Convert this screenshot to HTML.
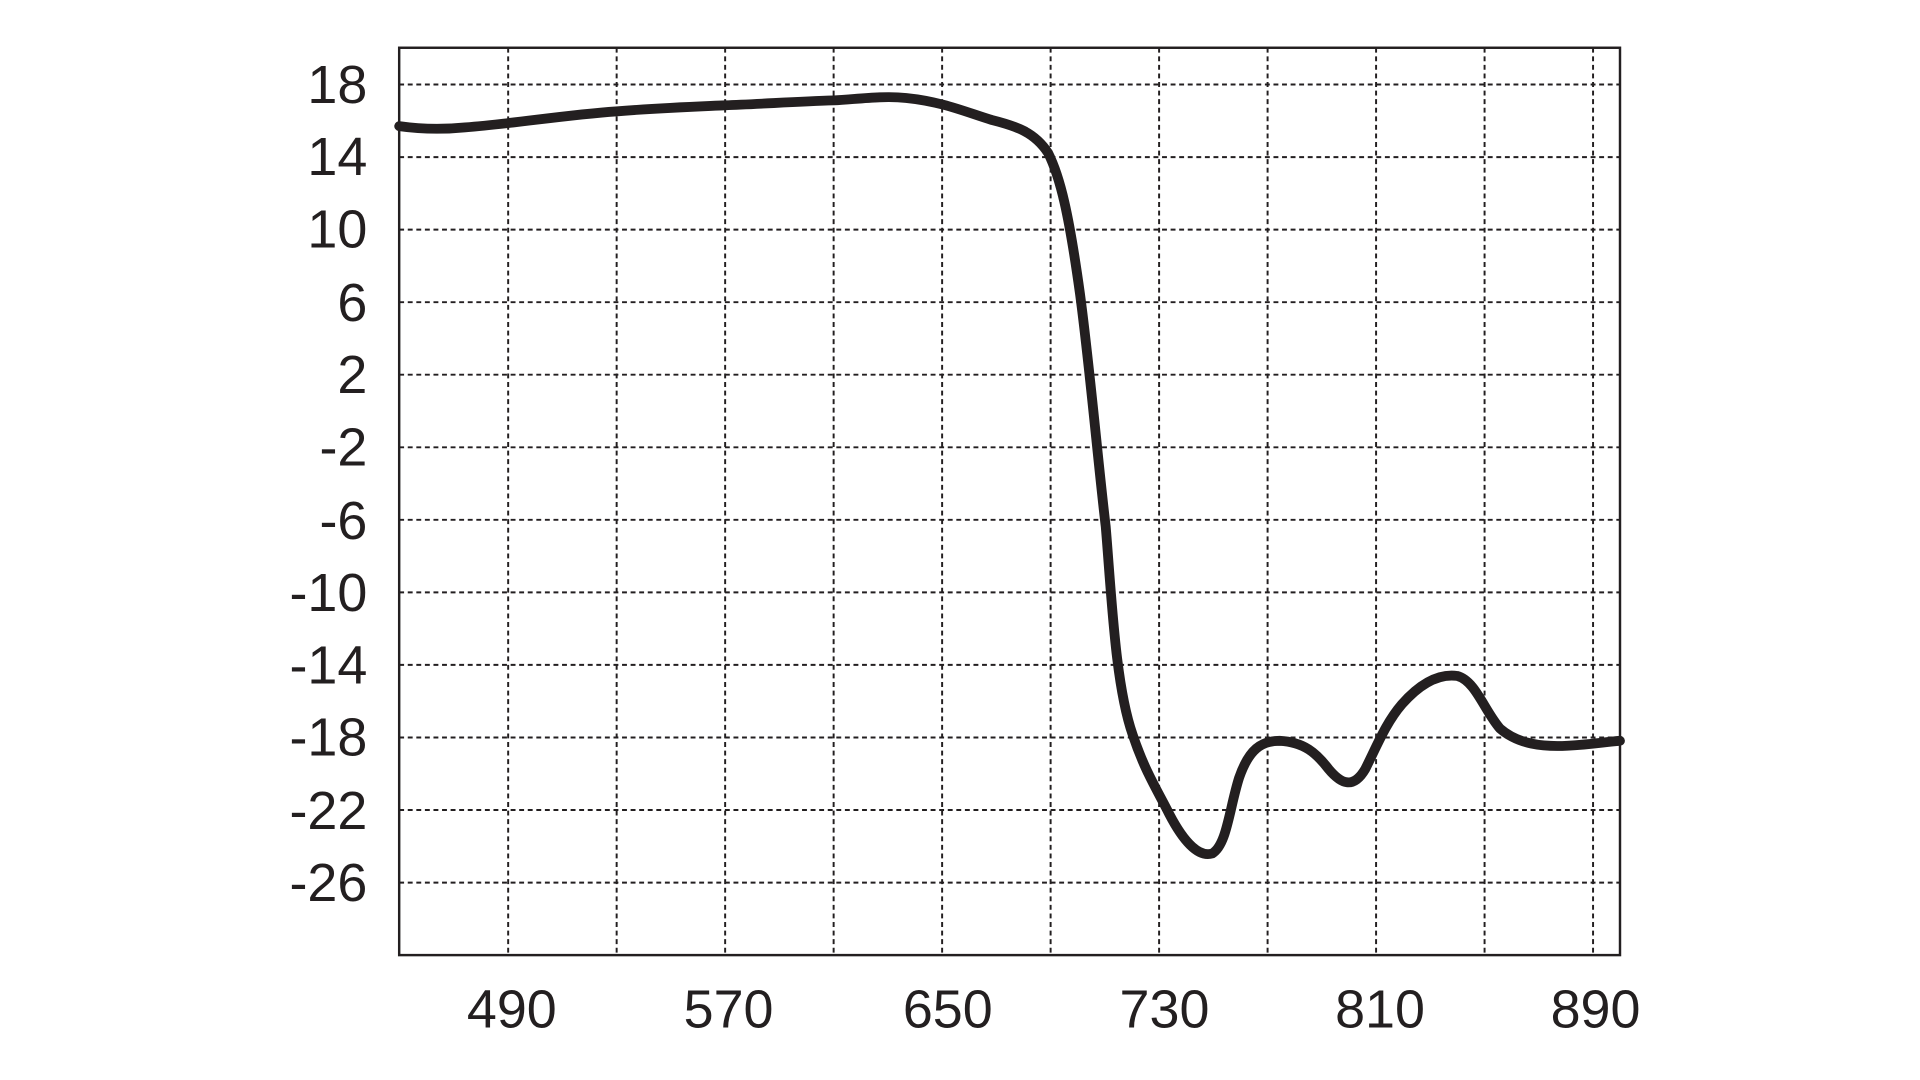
<!DOCTYPE html>
<html><head><meta charset="utf-8"><style>
html,body{margin:0;padding:0;background:#fff;}
svg{display:block;}
text{font-family:"Liberation Sans",Arial,sans-serif;fill:#231f20;font-size:44px;}
</style></head><body>
<svg width="1920" height="1080" viewBox="0 0 1568 882" preserveAspectRatio="none" xmlns="http://www.w3.org/2000/svg">
<rect width="1568" height="882" fill="#fff"/>
<g stroke="#231f20" stroke-width="1.6" stroke-dasharray="4,3" fill="none">
<line x1="326" x2="1323" y1="69" y2="69"/>
<line x1="326" x2="1323" y1="128.3" y2="128.3"/>
<line x1="326" x2="1323" y1="187.5" y2="187.5"/>
<line x1="326" x2="1323" y1="246.8" y2="246.8"/>
<line x1="326" x2="1323" y1="306" y2="306"/>
<line x1="326" x2="1323" y1="365.3" y2="365.3"/>
<line x1="326" x2="1323" y1="424.5" y2="424.5"/>
<line x1="326" x2="1323" y1="483.8" y2="483.8"/>
<line x1="326" x2="1323" y1="543" y2="543"/>
<line x1="326" x2="1323" y1="602.3" y2="602.3"/>
<line x1="326" x2="1323" y1="661.5" y2="661.5"/>
<line x1="326" x2="1323" y1="720.8" y2="720.8"/>
<line y1="39" y2="780" x1="415" x2="415"/>
<line y1="39" y2="780" x1="503.6" x2="503.6"/>
<line y1="39" y2="780" x1="592.2" x2="592.2"/>
<line y1="39" y2="780" x1="680.8" x2="680.8"/>
<line y1="39" y2="780" x1="769.4" x2="769.4"/>
<line y1="39" y2="780" x1="858" x2="858"/>
<line y1="39" y2="780" x1="946.6" x2="946.6"/>
<line y1="39" y2="780" x1="1035.2" x2="1035.2"/>
<line y1="39" y2="780" x1="1123.8" x2="1123.8"/>
<line y1="39" y2="780" x1="1212.4" x2="1212.4"/>
<line y1="39" y2="780" x1="1301" x2="1301"/>
</g>
<rect x="326" y="39" width="997" height="741" fill="none" stroke="#231f20" stroke-width="2"/>
<g text-anchor="end">
<text x="300" y="84">18</text>
<text x="300" y="143">14</text>
<text x="300" y="202">10</text>
<text x="300" y="262">6</text>
<text x="300" y="321">2</text>
<text x="300" y="380">-2</text>
<text x="300" y="440">-6</text>
<text x="300" y="499">-10</text>
<text x="300" y="558">-14</text>
<text x="300" y="617">-18</text>
<text x="300" y="677">-22</text>
<text x="300" y="736">-26</text>
</g>
<g text-anchor="middle">
<text x="418" y="839">490</text>
<text x="595" y="839">570</text>
<text x="774" y="839">650</text>
<text x="951" y="839">730</text>
<text x="1127" y="839">810</text>
<text x="1303" y="839">890</text>
</g>
<path fill="none" stroke="#231f20" stroke-width="8" stroke-linecap="round" stroke-linejoin="round"
d="M326,103 C340,105 360,106 380,104 C420,101 460,94 503,91 C540,88 570,87 592,86 C620,85 650,83 681,82 C700,81 720,78 740,80 C770,83 790,92 810,98 C830,103 845,108 856,125 C866,145 873,175 882,240 C890,300 897,380 903,430 C908,490 911,560 925,600 C935,630 945,645 955,665 C968,690 980,700 990,697 C1002,690 1004,660 1012,635 C1020,612 1030,605 1045,605 C1065,606 1075,615 1085,628 C1095,640 1105,645 1115,628 C1125,608 1132,590 1145,575 C1160,558 1175,550 1190,552 C1205,556 1212,580 1225,595 C1240,608 1260,610 1280,609 C1300,608 1310,606 1323,605"/>
</svg>
</body></html>
